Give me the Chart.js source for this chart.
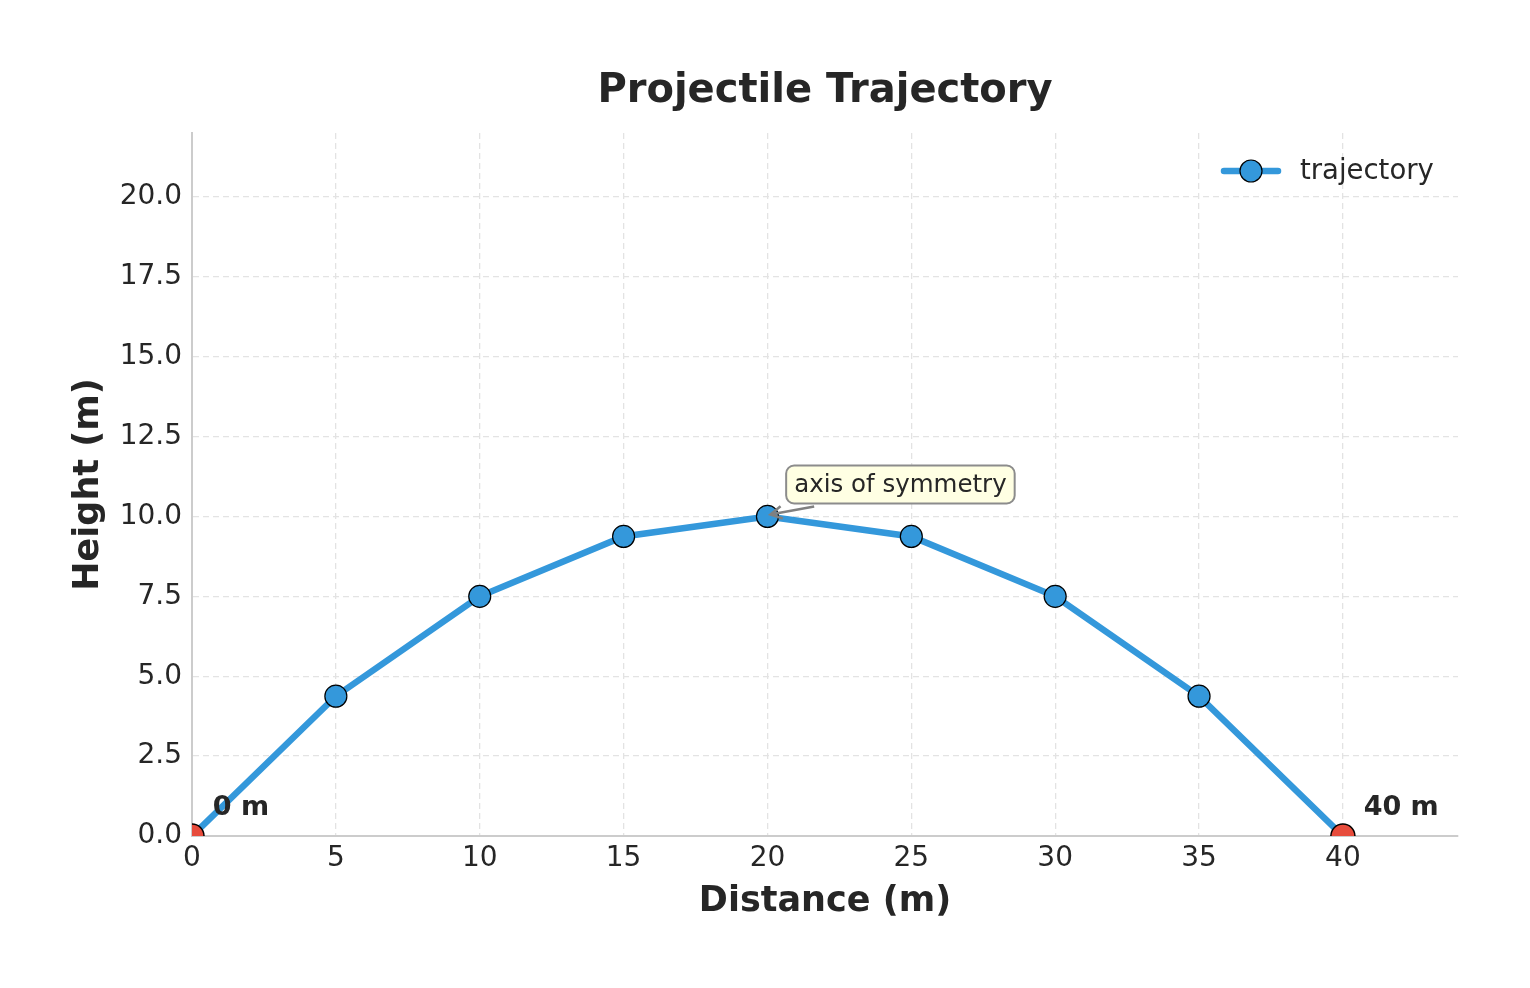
<!DOCTYPE html>
<html>
<head>
<meta charset="utf-8">
<style>
  html, body { margin: 0; padding: 0; background: #fff; }
  #wrap { width: 1530px; height: 988px; }
</style>
<script src="https://cdn.jsdelivr.net/npm/chart.js@4/dist/chart.umd.min.js"></script>
</head>
<body>
<div id="wrap"><canvas id="chart"></canvas></div>
<script>
// data
const distances = [0, 5, 10, 15, 20, 25, 30, 35, 40];
const heights = [0, 4.375, 7.5, 9.375, 10, 9.375, 7.5, 4.375, 0];
const landingX = [0, 40];
const landingY = [0, 0];
const landingLabels = ['0 m', '40 m'];
const xTicks = [0, 5, 10, 15, 20, 25, 30, 35, 40];
const yTicks = [0, 2.5, 5, 7.5, 10, 12.5, 15, 17.5, 20];
const titleText = 'Projectile Trajectory';
const seriesName = 'trajectory';
const noteText = 'axis of symmetry';
const notePoint = [20, 10];
const noteBoxAt = [20.65, 11.0];

const FONT = "'DejaVu Sans', sans-serif";
const INK = '#262626';
const BLUE = '#3498db';
const RED = '#e74c3c';

// title, legend, annotation and endpoint labels
const extras = {
  id: 'extras',
  afterDraw(chart) {
    const { ctx, chartArea, scales } = chart;
    const xs = scales.x, ys = scales.y;
    ctx.save();

    // title
    ctx.fillStyle = INK;
    ctx.font = 'bold 40px ' + FONT;
    ctx.textAlign = 'center';
    ctx.textBaseline = 'middle';
    ctx.fillText(titleText, (chartArea.left + chartArea.right) / 2, 92);

    // legend
    const ly = 171;
    ctx.strokeStyle = BLUE;
    ctx.lineWidth = 6.5;
    ctx.lineCap = 'round';
    ctx.beginPath();
    ctx.moveTo(1224, ly);
    ctx.lineTo(1278, ly);
    ctx.stroke();
    ctx.beginPath();
    ctx.arc(1251, ly, 11, 0, Math.PI * 2);
    ctx.fillStyle = BLUE;
    ctx.fill();
    ctx.lineWidth = 1.2;
    ctx.strokeStyle = '#000';
    ctx.stroke();
    ctx.fillStyle = INK;
    ctx.font = '27.5px ' + FONT;
    ctx.textAlign = 'left';
    ctx.fillText(seriesName, 1300, ly + 1);

    // endpoint labels
    ctx.font = 'bold 27px ' + FONT;
    ctx.textBaseline = 'middle';
    landingX.forEach((x, i) => {
      ctx.fillText(landingLabels[i], xs.getPixelForValue(x + 0.72), ys.getPixelForValue(landingY[i] + 0.88));
    });

    // annotation box
    ctx.font = '24.5px ' + FONT;
    const tw = ctx.measureText(noteText).width;
    const bx = xs.getPixelForValue(noteBoxAt[0]);
    const by = ys.getPixelForValue(noteBoxAt[1]);
    const padX = 8, h = 38;
    const bw = tw + padX * 2;
    const top = by - h / 2;
    // arrow
    const px = xs.getPixelForValue(notePoint[0]) + 3;
    const py = ys.getPixelForValue(notePoint[1]) - 2;
    const sx = bx + 28, sy = top + h + 3;
    ctx.strokeStyle = '#808080';
    ctx.lineWidth = 2.5;
    ctx.lineCap = 'butt';
    ctx.beginPath();
    ctx.moveTo(sx, sy);
    ctx.lineTo(px, py);
    ctx.stroke();
    const ang = Math.atan2(py - sy, px - sx);
    ctx.beginPath();
    ctx.moveTo(px - 13 * Math.cos(ang - 0.5), py - 13 * Math.sin(ang - 0.5));
    ctx.lineTo(px, py);
    ctx.lineTo(px - 13 * Math.cos(ang + 0.5), py - 13 * Math.sin(ang + 0.5));
    ctx.stroke();

    ctx.beginPath();
    ctx.roundRect(bx, top, bw, h, 8);
    ctx.fillStyle = '#ffffe3';
    ctx.fill();
    ctx.strokeStyle = '#8c8c8c';
    ctx.lineWidth = 2;
    ctx.stroke();
    ctx.fillStyle = INK;
    ctx.textAlign = 'left';
    ctx.fillText(noteText, bx + padX, by + 1);

    ctx.restore();
  }
};

new Chart(document.getElementById('chart'), {
  type: 'line',
  data: {
    datasets: [
      {
        label: 'landing',
        data: landingX.map((x, i) => ({ x: x, y: landingY[i] })),
        showLine: false,
        pointRadius: 12,
        pointBackgroundColor: RED,
        pointBorderColor: '#000',
        pointBorderWidth: 1.5,
        clip: 0,
        order: 0
      },
      {
        label: seriesName,
        data: distances.map((x, i) => ({ x: x, y: heights[i] })),
        borderColor: BLUE,
        borderWidth: 6.5,
        tension: 0,
        pointRadius: 11,
        pointBackgroundColor: BLUE,
        pointBorderColor: '#000',
        pointBorderWidth: 1.2,
        clip: 0,
        order: 1
      }
    ]
  },
  options: {
    responsive: true,
    maintainAspectRatio: false,
    animation: false,
    layout: { padding: { top: 133, right: 72, left: 68, bottom: 65 } },
    plugins: {
      legend: { display: false },
      title: { display: false },
      tooltip: { enabled: false }
    },
    scales: {
      x: {
        type: 'linear',
        min: 0,
        max: 44,
        afterFit: s => { s.height = 87; },
        afterBuildTicks: s => { s.ticks = xTicks.map(v => ({ value: v })); },
        grid: { color: '#e3e3e3', lineWidth: 1.3, drawTicks: false },
        border: { display: true, color: '#cccccc', width: 2, dash: [6, 4] },
        ticks: { color: INK, font: { family: FONT, size: 28 }, padding: 6 },
        title: { display: true, text: 'Distance (m)', color: INK, font: { family: FONT, size: 35, weight: 'bold' }, padding: 0 }
      },
      y: {
        min: 0,
        max: 22,
        afterFit: s => { s.width = 124; },
        afterBuildTicks: s => { s.ticks = yTicks.map(v => ({ value: v })); },
        grid: { color: '#e3e3e3', lineWidth: 1.3, drawTicks: false },
        border: { display: true, color: '#cccccc', width: 2, dash: [6, 4] },
        ticks: { color: INK, font: { family: FONT, size: 28 }, padding: 10, callback: v => v.toFixed(1) },
        title: { display: true, text: 'Height (m)', color: INK, font: { family: FONT, size: 35, weight: 'bold' }, padding: 0 }
      }
    }
  },
  plugins: [extras]
});
</script>
</body>
</html>
